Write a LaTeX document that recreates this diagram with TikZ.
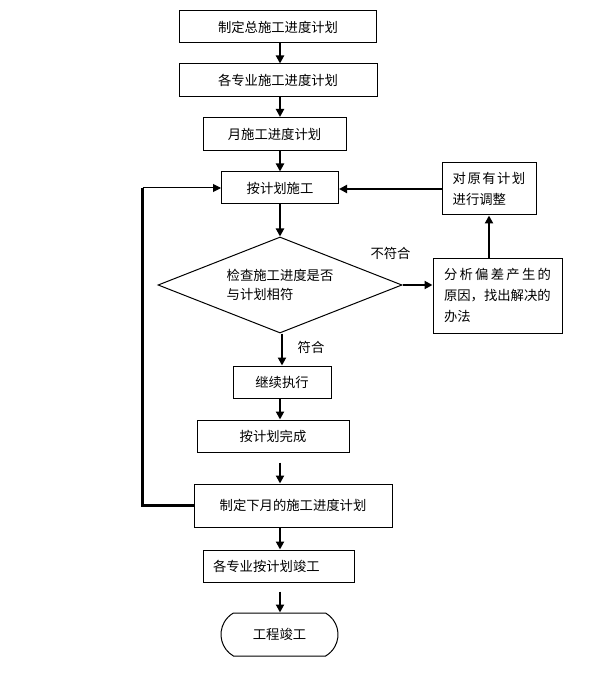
\documentclass[tikz,border=0pt]{standalone}
\usepackage{fontspec}
\setmainfont{Noto Sans CJK SC}
\usetikzlibrary{positioning,shapes.geometric,shapes.misc,arrows.meta}
\newcommand{\boxheight}{24pt}
\newcommand{\stepy}{40.5pt}
\newcommand{\bigstepy}{72.75pt}
\newcommand{\gapa}{\hspace{1.7pt}}
\newcommand{\gapb}{\hspace{1.1pt}}

\begin{document}
\begin{tikzpicture}[x=0.75pt,y=-0.75pt,on grid,
		box/.style={draw, rectangle, line width=0.75pt, inner sep=0pt, minimum height=\boxheight, font=\fontsize{10pt}{12pt}\selectfont},
		note/.style={font=\fontsize{10pt}{12pt}\selectfont, inner sep=0pt},
		flow/.style={line width=1.6pt, -{Triangle[width=6pt,length=6pt]}},
		thin flow/.style={line width=0.75pt, -{Triangle[width=6pt,length=6pt]}},
		loopline/.style={line width=2.25pt}]
		\useasboundingbox (0,0) rectangle (592,698);
		\node[box, minimum width=147.75pt] (0) at (278,27) {制定总施工进度计划};
		\node[box, minimum width=148.5pt, minimum height=24.75pt] (1) [below=40.125pt of 0] {各专业施工进度计划};
		\node[box, minimum width=107.25pt, minimum height=24.75pt] (2) [below=40.125pt of 1, xshift=-2.6pt] {月施工进度计划};
		\node[box, minimum width=87.75pt] (3) [below=\stepy of 2, xshift=4.1pt] {按计划施工};
		\node[box, diamond, aspect=2.5, minimum width=183pt, minimum height=72pt, align=left, font=\fontsize{10pt}{14.25pt}\selectfont] (4) [below=\bigstepy of 3] {检查施工进度是否\\与计划相符};
		\node[box, minimum width=73.5pt] (5) [below=\bigstepy of 4, xshift=1.5pt] {继续执行};
		\node[box, minimum width=114pt] (6) [below=\stepy of 5, xshift=-6.75pt] {按计划完成};
		\node[box, minimum width=148.5pt, minimum height=32.25pt] (7) [below=52.125pt of 6, xshift=15pt] {制定下月的施工进度计划};
		\node[box, minimum width=113.25pt, text width=98.25pt, inner xsep=7.5pt, align=left] (8) [below=45.375pt of 7, xshift=-10.875pt] {各专业按计划竣工};
		\node[box, rounded rectangle, rounded rectangle arc length=120, minimum width=87.75pt, minimum height=32.25pt] (9) [below=51.375pt of 8, xshift=0.75pt] {工程竣工};
		\node[box, minimum width=96.75pt, minimum height=56.25pt, align=left, font=\fontsize{10pt}{15.75pt}\selectfont] (10) [right=163.125pt of 4, yshift=-7.875pt] {分\gapa 析\gapa 偏\gapa 差\gapa 产\gapa 生\gapa 的\\原因，找出解决的\\办法};
		\node[box, minimum width=70.5pt, minimum height=39pt, align=left, font=\fontsize{10pt}{15.75pt}\selectfont] (11) [above=79.875pt of 10, xshift=-6.375pt] {对\gapb 原\gapb 有\gapb 计\gapb 划\\进行调整};
		\node[note] (12) at ([shift={(-9pt,24pt)}]4.east) {不符合};
		\node[note] (13) at ([shift={(23.25pt,-10.5pt)}]4.south) {符合};
		\coordinate (14) at ([xshift=-38.25pt]7.west);
		\path[flow]
			(0.south -| 3) edge (1.north -| 3)
			(1.south -| 3) edge (2.north -| 3)
			(2.south -| 3) edge (3.north)
			(3) edge (4)
			(4.south -| 5) edge (5.north)
			(5.south -| 3) edge (6.north -| 3)
			(6.south -| 3) edge[shorten <=7.5pt] (7.north -| 3)
			(7.south -| 3) edge (8.north -| 3)
			(8.south -| 3) edge[shorten <=6.75pt] (9.north -| 3)
			(4.east) edge (4.east -| 10.west)
			(11.south |- 10.north) edge (11.south)
			(11.west) edge (11.west -| 3.east)
		;
		\draw[loopline] (7.west) -- (14) -- (14 |- 3.west);
		\draw[thin flow] (14 |- 3.west) -- (3.west);
	\end{tikzpicture}
\end{document}
